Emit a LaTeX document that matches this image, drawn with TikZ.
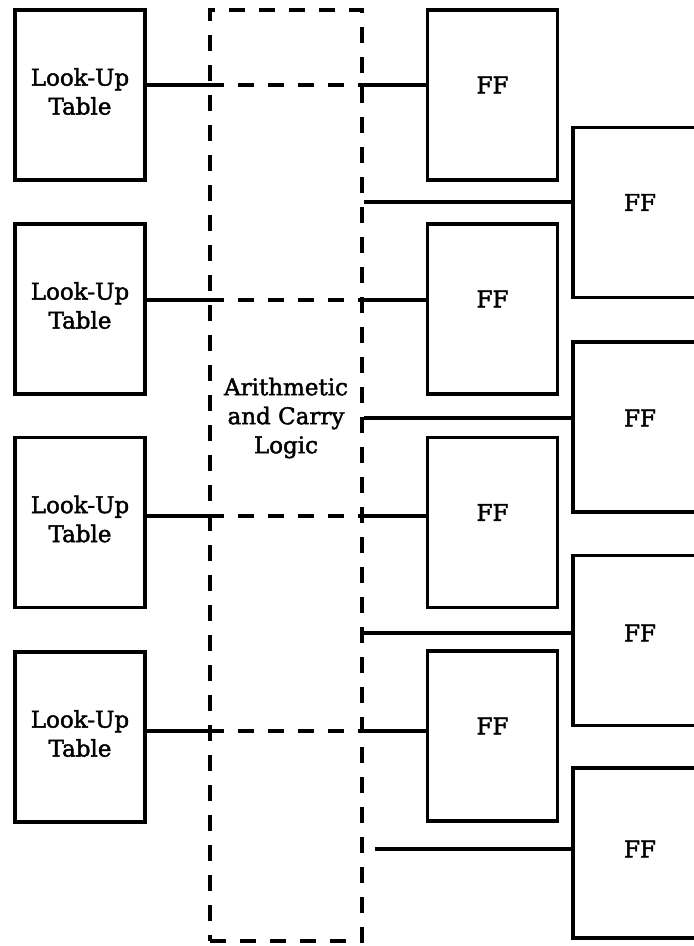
\documentclass[tikz,border=0pt]{standalone}
\usepackage{fontspec}
\setmainfont{DejaVu Serif}
\newfontfamily\lblfont{DejaVu Serif}[FakeBold=1.8]
\begin{document}
\begin{tikzpicture}[x=1pt,y=-1pt,
  box/.style={draw, line width=3.5pt, rectangle, inner sep=0pt},
  lut/.style={box, minimum width=130pt, minimum height=170pt,
    label={[txt, yshift=3.5pt]center:Look-Up\\Table}},
  ffa/.style={box, minimum width=130pt, minimum height=170pt,
    label={[txt, yshift=10pt]center:FF}},
  ffb/.style={box, minimum width=134pt, minimum height=170pt,
    label={[txt, yshift=#1]center:FF}},
  txt/.style={font=\lblfont\fontsize{23}{29}\selectfont, align=center, inner sep=0pt},
  wire/.style={line width=3.5pt},
  dsh/.style={line width=3.5pt, dash pattern=on 16pt off 14pt}]
\useasboundingbox (0,0) rectangle (694,946);
\fill[white] (0,0) rectangle (694,946);
\clip (0,0) rectangle (694,946);

% look-up tables
\node[lut] (L1) at (80,95) {};
\node[lut] (L2) at (80,309) {};
\node[lut] (L3) at (80,522.5) {};
\node[lut] (L4) at (80,737) {};

% first column of flip-flops
\node[ffa] (F1) at (492.5,95) {};
\node[ffa] (F2) at (492.5,309) {};
\node[ffa] (F3) at (492.5,522.5) {};
\node[ffa] (F4) at (492.5,736) {};

% second column of flip-flops
\node[ffb=10pt] (G1) at (640,212.5) {};
\node[ffb=9pt] (G2) at (640,427) {};
\node[ffb=7.5pt] (G3) at (640,640.5) {};
\node[ffb=4pt] (G4) at (640,853) {};

% arithmetic and carry logic
\node[dsh, draw, rectangle, inner sep=0pt, minimum width=152pt, minimum height=931pt] (A) at (286,475.5) {};
\node[txt] (At) at (286,418) {Arithmetic\\and Carry\\Logic};

% connector levels
\coordinate (c1) at (0,85);
\coordinate (c2) at (0,300);
\coordinate (c3) at (0,516);
\coordinate (c4) at (0,731);
\coordinate (d1) at (0,202);
\coordinate (d2) at (0,418);
\coordinate (d3) at (0,633);
\coordinate (d4) at (0,849);

\foreach \i in {1,2,3,4}{
  \draw[wire] (L\i.east |- c\i) -- (A.west |- c\i);
  \draw[dsh] (A.west |- c\i) -- (A.east |- c\i);
  \draw[wire] (A.east |- c\i) -- (F\i.west |- c\i);
}
\draw[wire] (A.east |- d1) -- (G1.west |- d1);
\draw[wire] (A.east |- d2) -- (G2.west |- d2);
\draw[wire] (A.east |- d3) -- (G3.west |- d3);
\draw[wire] ([xshift=11pt]A.east |- d4) -- (G4.west |- d4);
\end{tikzpicture}
\end{document}
